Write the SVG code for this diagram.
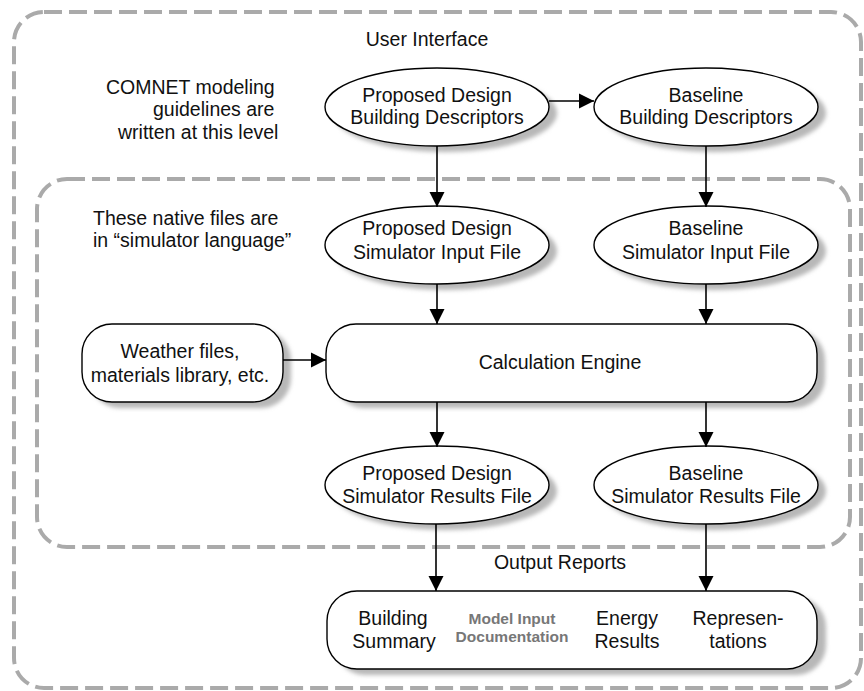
<svg xmlns="http://www.w3.org/2000/svg" width="864" height="691" viewBox="0 0 864 691">
<defs>
<filter id="blur" x="-20%" y="-20%" width="140%" height="140%"><feGaussianBlur stdDeviation="2"/></filter>
<marker id="ah" viewBox="0 0 10 10" refX="10" refY="5" markerWidth="15" markerHeight="16" markerUnits="userSpaceOnUse" orient="auto"><path d="M0,0 L10,5 L0,10 z" fill="#000"/></marker>
<style>
.zone{fill:none;stroke:#aaaaaa;stroke-width:4;stroke-dasharray:18 7}
.sh{fill:#b8b8b8;filter:url(#blur)}
.node{fill:#fff;stroke:#000;stroke-width:1.4}
.t{font-family:"Liberation Sans",Arial,sans-serif;font-size:19.5px;fill:#111}
.c{text-anchor:middle}
.g{font-family:"Liberation Sans",Arial,sans-serif;font-size:15.5px;font-weight:bold;fill:#777;text-anchor:middle}
.cn{stroke:#000;stroke-width:1.6;fill:none;marker-end:url(#ah)}
</style>
</defs>
<rect width="864" height="691" fill="#fff"/>
<g id="zones">
<rect class="zone" x="14" y="12" width="847" height="676" rx="30"/>
<rect class="zone" x="37" y="179" width="813" height="368" rx="30"/>
</g>
<g id="labels">
<text class="t c" x="427" y="46">User Interface</text>
<text class="t" x="106" y="94">COMNET modeling</text>
<text class="t" x="153" y="116">guidelines are</text>
<text class="t" x="118" y="139">written at this level</text>
<text class="t" x="93" y="225">These native files are</text>
<text class="t" x="93" y="247">in “simulator language”</text>
<text class="t c" x="560" y="569">Output Reports</text>
</g>
<g id="pd-desc">
<ellipse class="sh" cx="445" cy="113" rx="112" ry="39"/>
<ellipse class="node" cx="437" cy="107" rx="112" ry="39"/>
<text class="t c" x="437" y="102">Proposed Design</text>
<text class="t c" x="437" y="124">Building Descriptors</text>
</g>
<g id="bl-desc">
<ellipse class="sh" cx="714" cy="113" rx="112" ry="39"/>
<ellipse class="node" cx="706" cy="107" rx="112" ry="39"/>
<text class="t c" x="706" y="102">Baseline</text>
<text class="t c" x="706" y="124">Building Descriptors</text>
</g>
<g id="pd-input">
<ellipse class="sh" cx="445" cy="251" rx="112" ry="39"/>
<ellipse class="node" cx="437" cy="245" rx="112" ry="39"/>
<text class="t c" x="437" y="235">Proposed Design</text>
<text class="t c" x="437" y="259">Simulator Input File</text>
</g>
<g id="bl-input">
<ellipse class="sh" cx="714" cy="251" rx="112" ry="39"/>
<ellipse class="node" cx="706" cy="245" rx="112" ry="39"/>
<text class="t c" x="706" y="235">Baseline</text>
<text class="t c" x="706" y="259">Simulator Input File</text>
</g>
<g id="weather">
<rect class="sh" x="90" y="330" width="201" height="78" rx="30"/>
<rect class="node" x="82" y="324" width="201" height="78" rx="30"/>
<text class="t c" x="180" y="358">Weather files,</text>
<text class="t c" x="180" y="382">materials library, etc.</text>
</g>
<g id="calc">
<rect class="sh" x="334" y="330" width="491" height="78" rx="30"/>
<rect class="node" x="326" y="324" width="491" height="78" rx="30"/>
<text class="t c" x="560" y="369">Calculation Engine</text>
</g>
<g id="pd-results">
<ellipse class="sh" cx="445" cy="491" rx="112" ry="39"/>
<ellipse class="node" cx="437" cy="485" rx="112" ry="39"/>
<text class="t c" x="437" y="480">Proposed Design</text>
<text class="t c" x="437" y="503">Simulator Results File</text>
</g>
<g id="bl-results">
<ellipse class="sh" cx="714" cy="491" rx="112" ry="39"/>
<ellipse class="node" cx="706" cy="485" rx="112" ry="39"/>
<text class="t c" x="706" y="480">Baseline</text>
<text class="t c" x="706" y="503">Simulator Results File</text>
</g>
<g id="reports">
<rect class="sh" x="335" y="597" width="491" height="78" rx="30"/>
<rect class="node" x="327" y="591" width="490" height="78" rx="30"/>
<text class="t c" x="393" y="625">Building</text>
<text class="t c" x="394" y="648">Summary</text>
<text class="g" x="512" y="624">Model Input</text>
<text class="g" x="512" y="642">Documentation</text>
<text class="t c" x="627" y="625">Energy</text>
<text class="t c" x="627" y="648">Results</text>
<text class="t c" x="738" y="625">Represen-</text>
<text class="t c" x="738" y="648">tations</text>
</g>
<g id="connectors">
<line class="cn" x1="549" y1="101" x2="594" y2="101"/>
<line class="cn" x1="437" y1="146" x2="437" y2="207"/>
<line class="cn" x1="706" y1="146" x2="706" y2="207"/>
<line class="cn" x1="437" y1="284" x2="437" y2="324"/>
<line class="cn" x1="706" y1="284" x2="706" y2="324"/>
<line class="cn" x1="283" y1="360" x2="326" y2="360"/>
<line class="cn" x1="437" y1="402" x2="437" y2="447"/>
<line class="cn" x1="706" y1="402" x2="706" y2="447"/>
<line class="cn" x1="436" y1="524" x2="436" y2="591"/>
<line class="cn" x1="706" y1="524" x2="706" y2="591"/>
</g>
</svg>
